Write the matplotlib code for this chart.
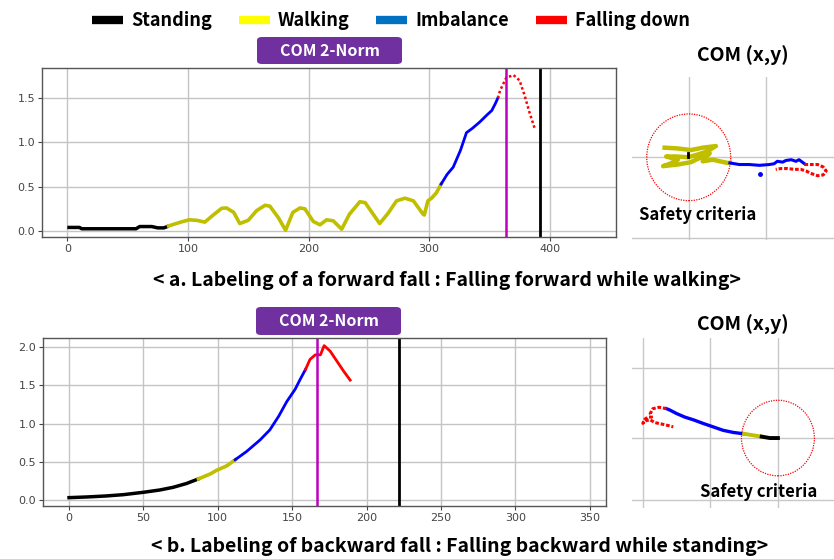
import matplotlib
matplotlib.use("Agg")
import matplotlib.pyplot as plt
from matplotlib.lines import Line2D
from matplotlib.patches import Ellipse, FancyBboxPatch

# ---------------- data (top: forward fall) ----------------
a_stand_x = [0, 10, 12, 30, 57, 60, 70, 75, 80, 84]
a_stand_y = [0.04, 0.04, 0.025, 0.025, 0.025, 0.05, 0.05, 0.035, 0.035, 0.055]
a_walk_x = [84, 94, 101, 107.5, 114, 121, 128, 132, 138, 143, 150, 157, 164, 168, 175, 181,
            187, 193, 197, 204, 209.5, 215, 220.5, 227.5, 234, 242.6, 247, 253.6, 259, 266,
            273, 280, 287, 295, 296, 299, 302, 306, 310]
a_walk_y = [0.057, 0.10, 0.126, 0.12, 0.10, 0.18, 0.256, 0.26, 0.21, 0.084, 0.12, 0.23, 0.29,
            0.28, 0.15, 0.008, 0.21, 0.26, 0.25, 0.107, 0.07, 0.126, 0.115, 0.02, 0.19, 0.33,
            0.32, 0.19, 0.084, 0.2, 0.34, 0.37, 0.34, 0.19, 0.18, 0.34, 0.37, 0.43, 0.53]
a_imb_x = [310, 315, 320, 326, 331, 336, 342, 348, 352, 355, 357]
a_imb_y = [0.53, 0.64, 0.72, 0.91, 1.11, 1.16, 1.23, 1.31, 1.36, 1.44, 1.50]
a_fall_x = [357, 359, 364, 370, 375, 379, 383, 388]
a_fall_y = [1.50, 1.59, 1.73, 1.76, 1.70, 1.54, 1.35, 1.14]
a_vline_m = 364
a_vline_k = 392
a_xticks = [0, 100, 200, 300, 400]
a_yticks = [0.0, 0.5, 1.0, 1.5]

# ---------------- data (bottom: backward fall) ----------------
b_stand_x = [0, 12, 25, 36.5, 50, 61, 70, 79, 87]
b_stand_y = [0.035, 0.044, 0.057, 0.074, 0.105, 0.135, 0.17, 0.22, 0.28]
b_walk_x = [87, 95, 99, 106, 111.7]
b_walk_y = [0.28, 0.345, 0.39, 0.45, 0.53]
b_imb_x = [111.7, 119.5, 128.5, 135, 141, 146.4, 152, 155.4, 159]
b_imb_y = [0.53, 0.64, 0.79, 0.92, 1.10, 1.29, 1.45, 1.58, 1.71]
b_fall_x = [159, 162, 165.5, 169, 171.5, 175.5, 180, 184.5, 189]
b_fall_y = [1.71, 1.84, 1.90, 1.90, 2.02, 1.95, 1.82, 1.69, 1.57]
b_vline_m = 167
b_vline_k = 222
b_xticks = [0, 50, 100, 150, 200, 250, 300, 350]
b_yticks = [0.0, 0.5, 1.0, 1.5, 2.0]

# ---------------- COM (x,y) paths ----------------
ca_stand_x = [-0.01, -0.01]
ca_stand_y = [0.05, 0.0]
ca_walk_x = [-0.31, -0.14, 0.03, 0.18, 0.35, 0.23, 0.10, -0.01, -0.16, -0.29, -0.14, -0.24, -0.33,
             -0.14, 0.03, 0.16, 0.27, 0.22, 0.18, 0.31, 0.40, 0.50, 0.53]
ca_walk_y = [0.12, 0.11, 0.09, 0.12, 0.14, 0.07, 0.03, 0.0, 0.01, 0.01, -0.03, -0.08, -0.11,
             -0.09, -0.06, 0.0, 0.05, 0.0, -0.05, -0.03, -0.05, -0.07, -0.07]
ca_imb_x = [0.53, 0.65, 0.78, 0.91, 1.04, 1.10, 1.14, 1.21, 1.25, 1.32, 1.38, 1.42, 1.49]
ca_imb_y = [-0.07, -0.09, -0.09, -0.10, -0.09, -0.08, -0.05, -0.06, -0.04, -0.03, -0.05, -0.03, -0.08]
ca_outlier = (0.92, -0.21)
ca_fall_x = [1.49, 1.57, 1.66, 1.73, 1.77, 1.73, 1.66, 1.57, 1.51, 1.44, 1.36, 1.27, 1.19, 1.12]
ca_fall_y = [-0.09, -0.09, -0.09, -0.12, -0.17, -0.22, -0.23, -0.20, -0.17, -0.15, -0.15, -0.14, -0.14, -0.15]

cb_stand_x = [0.0, -0.12, -0.24]
cb_stand_y = [0.0, 0.0, 0.02]
cb_walk_x = [-0.24, -0.37, -0.50]
cb_walk_y = [0.02, 0.04, 0.06]
cb_imb_x = [-0.50, -0.66, -0.81, -0.96, -1.11, -1.25, -1.38, -1.50, -1.60, -1.65]
cb_imb_y = [0.06, 0.08, 0.11, 0.16, 0.21, 0.26, 0.30, 0.35, 0.40, 0.42]
cb_fall_x = [-1.65, -1.76, -1.85, -1.89, -1.87, -1.92, -1.97, -2.00, -1.95, -1.89, -1.82, -1.72, -1.63, -1.55]
cb_fall_y = [0.42, 0.44, 0.42, 0.35, 0.30, 0.30, 0.27, 0.21, 0.25, 0.26, 0.22, 0.20, 0.18, 0.16]
safety_radius = 0.54

legend_labels = ["Standing", "Walking", "Imbalance", "Falling down"]
legend_colors = ["#000000", "#FFFF00", "#0070C0", "#FF0000"]

C_STAND, C_WALK, C_IMB, C_FALL, C_MAG = "black", "#BFBF00", "#0000FF", "#FF0000", "#BF00BF"

W, H = 834, 559
fig = plt.figure(figsize=(W / 100, H / 100), dpi=100)
fig.patch.set_facecolor("white")

FONT = ["Noto Sans CJK KR", "DejaVu Sans"]


def fbox(x0, y0, x1, y1):
    # pixel box (top-left origin) -> figure fraction rect
    return [x0 / W, 1 - y1 / H, (x1 - x0) / W, (y1 - y0) / H]


def norm_axes(ax, xlim, ylim, xticks, yticks):
    ax.set_xlim(*xlim)
    ax.set_ylim(*ylim)
    ax.set_xticks(xticks)
    ax.set_yticks(yticks)
    ax.set_yticklabels([f"{v:.1f}" for v in yticks])
    ax.grid(True, color="#c4c4c4", lw=1.0)
    ax.set_axisbelow(True)
    ax.tick_params(labelsize=8, colors="#444444", length=3, width=0.8, pad=2)
    for s in ax.spines.values():
        s.set_color("#555555")
        s.set_linewidth(1.0)


# ---------- top time-series ----------
ax1 = fig.add_axes(fbox(42, 68, 616, 237))
norm_axes(ax1, (-21, 455), (-0.068, 1.84), a_xticks, a_yticks)
ax1.plot(a_stand_x, a_stand_y, color=C_STAND, lw=2.5, solid_capstyle="butt")
ax1.plot(a_walk_x, a_walk_y, color=C_WALK, lw=2.6, solid_joinstyle="round")
ax1.plot(a_imb_x, a_imb_y, color=C_IMB, lw=2.0)
ax1.plot(a_fall_x, a_fall_y, color=C_FALL, lw=1.8, ls=(0, (1.0, 1.0)))
ax1.axvline(a_vline_m, color=C_MAG, lw=1.8)
ax1.axvline(a_vline_k, color="black", lw=2.0)

# ---------- bottom time-series ----------
ax2 = fig.add_axes(fbox(43, 338, 606, 506))
norm_axes(ax2, (-17.5, 361), (-0.074, 2.12), b_xticks, b_yticks)
ax2.plot(b_stand_x, b_stand_y, color=C_STAND, lw=2.5)
ax2.plot(b_walk_x, b_walk_y, color=C_WALK, lw=2.6)
ax2.plot(b_imb_x, b_imb_y, color=C_IMB, lw=2.0)
ax2.plot(b_fall_x, b_fall_y, color=C_FALL, lw=2.0)
ax2.axvline(b_vline_m, color=C_MAG, lw=1.8)
ax2.axvline(b_vline_k, color="black", lw=2.0)

# ---------- COM (x,y) panels ----------
def com_axes(rect, xlim, ylim, vx, hy):
    ax = fig.add_axes(rect)
    ax.set_xlim(*xlim)
    ax.set_ylim(*ylim)
    ax.axis("off")
    for v in vx:
        ax.axvline(v, color="#c8c8c8", lw=1.0, zorder=0)
    for h in hy:
        ax.axhline(h, color="#c8c8c8", lw=1.0, zorder=0)
    ax.add_patch(Ellipse((0, 0), 2 * safety_radius, 2 * safety_radius, fill=False,
                         edgecolor="red", lw=0.9, ls=(0, (1, 1)), zorder=1))
    return ax


ax3 = com_axes(fbox(632, 77, 834, 240), (-0.73, 1.87), (-1.03, 1.0), [0, 1], [0, -1])
ax3.plot(ca_walk_x, ca_walk_y, color=C_WALK, lw=3.2, zorder=3, solid_joinstyle="round")
ax3.plot(ca_stand_x, ca_stand_y, color=C_STAND, lw=2.0, zorder=4)
ax3.plot(ca_imb_x, ca_imb_y, color=C_IMB, lw=2.2, zorder=3)
ax3.plot([ca_outlier[0]], [ca_outlier[1]], "o", color=C_IMB, ms=2.5, zorder=3)
ax3.plot(ca_fall_x, ca_fall_y, color=C_FALL, lw=2.2, ls=(0, (1.2, 0.6)), zorder=3)

ax4 = com_axes(fbox(632, 338, 834, 508), (-2.16, 0.83), (-1.0, 1.43), [-2, -1, 0], [1, 0, -0.89])
ax4.plot(cb_imb_x, cb_imb_y, color=C_IMB, lw=2.4, zorder=3)
ax4.plot(cb_walk_x, cb_walk_y, color=C_WALK, lw=2.8, zorder=3)
ax4.plot(cb_stand_x, cb_stand_y, color=C_STAND, lw=2.8, zorder=4)
ax4.plot(cb_fall_x, cb_fall_y, color=C_FALL, lw=2.2, ls=(0, (1.2, 0.6)), zorder=3)

# ---------- texts ----------
def ftext(x, y, s, **kw):
    fig.text(x / W, 1 - y / H, s, ha="center", va="center", family=FONT, **kw)


ftext(743, 56, "COM (x,y)", fontsize=14, fontweight="bold")
ftext(743, 325, "COM (x,y)", fontsize=14, fontweight="bold")
ftext(698, 215, "Safety criteria", fontsize=12, fontweight="bold")
ftext(759, 492, "Safety criteria", fontsize=12, fontweight="bold")
ftext(447, 281, "< a. Labeling of a forward fall : Falling forward while walking>",
      fontsize=14, fontweight="bold")
ftext(460, 546, "< b. Labeling of backward fall : Falling backward while standing>",
      fontsize=14, fontweight="bold")

for (x0, y0, x1, y1) in [(257, 37, 402, 64), (256, 307, 401, 335)]:
    r = fbox(x0, y0, x1, y1)
    fig.patches.append(FancyBboxPatch((r[0], r[1]), r[2], r[3],
                                      boxstyle="round,pad=0,rounding_size=0.006",
                                      transform=fig.transFigure, facecolor="#7030A0",
                                      edgecolor="none", zorder=5))
    ftext((x0 + x1) / 2, (y0 + y1) / 2, "COM 2-Norm", fontsize=11.5, fontweight="bold",
          color="white", zorder=6)

handles = [Line2D([], [], color=c, lw=6, solid_capstyle="butt") for c in legend_colors]
leg = fig.legend(handles, legend_labels, loc="center", bbox_to_anchor=(391 / W, 1 - 21 / H),
                 ncol=4, frameon=False, handlelength=1.7, handletextpad=0.45,
                 columnspacing=1.5, prop={"family": FONT, "size": 13, "weight": "bold"})

fig.savefig("out.png", dpi=100, facecolor="white")
